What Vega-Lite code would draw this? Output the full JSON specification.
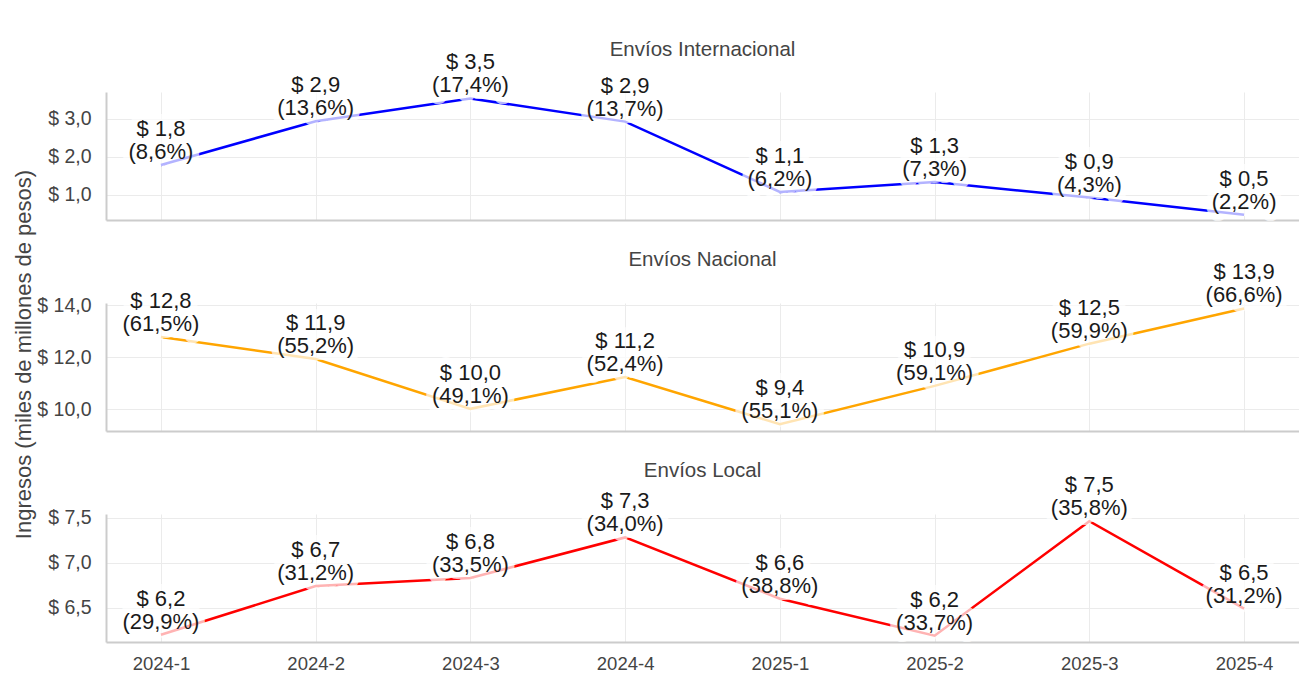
{
  "$schema": "https://vega.github.io/schema/vega-lite/v6.json",
  "background": "white",
  "padding": {"left": 11, "top": 39, "right": 0, "bottom": 0},
  "bounds": "flush",
  "spacing": 83,
  "config": {
    "font": "Liberation Sans",
    "view": {"stroke": null},
    "axis": {
      "labelFont": "Liberation Sans",
      "labelFontSize": 18.5,
      "labelColor": "#444444",
      "ticks": false,
      "gridColor": "#ebebeb",
      "gridWidth": 1,
      "domainColor": "#cccccc",
      "domainWidth": 2,
      "titleFont": "Liberation Sans",
      "titleFontWeight": "normal",
      "titleColor": "#444444",
      "titleFontSize": 22
    },
    "axisY": {"labelFontSize": 19.5, "labelPadding": 15},
    "title": {
      "font": "Liberation Sans",
      "fontSize": 20.5,
      "fontWeight": "normal",
      "color": "#444444",
      "anchor": "middle",
      "frame": "group",
      "baseline": "bottom"
    },
    "line": {"strokeWidth": 2.5},
    "text": {"font": "Liberation Sans"}
  },
  "datasets": {
    "d": [
      {"panel": "Internacional", "q": "2024-1", "v": 1.79, "label": "$ 1,8\n(8,6%)"},
      {"panel": "Internacional", "q": "2024-2", "v": 2.94, "label": "$ 2,9\n(13,6%)"},
      {"panel": "Internacional", "q": "2024-3", "v": 3.54, "label": "$ 3,5\n(17,4%)"},
      {"panel": "Internacional", "q": "2024-4", "v": 2.93, "label": "$ 2,9\n(13,7%)"},
      {"panel": "Internacional", "q": "2025-1", "v": 1.08, "label": "$ 1,1\n(6,2%)"},
      {"panel": "Internacional", "q": "2025-2", "v": 1.34, "label": "$ 1,3\n(7,3%)"},
      {"panel": "Internacional", "q": "2025-3", "v": 0.93, "label": "$ 0,9\n(4,3%)"},
      {"panel": "Internacional", "q": "2025-4", "v": 0.48, "label": "$ 0,5\n(2,2%)"},
      {"panel": "Nacional", "q": "2024-1", "v": 12.78, "label": "$ 12,8\n(61,5%)"},
      {"panel": "Nacional", "q": "2024-2", "v": 11.93, "label": "$ 11,9\n(55,2%)"},
      {"panel": "Nacional", "q": "2024-3", "v": 10.02, "label": "$ 10,0\n(49,1%)"},
      {"panel": "Nacional", "q": "2024-4", "v": 11.24, "label": "$ 11,2\n(52,4%)"},
      {"panel": "Nacional", "q": "2025-1", "v": 9.43, "label": "$ 9,4\n(55,1%)"},
      {"panel": "Nacional", "q": "2025-2", "v": 10.9, "label": "$ 10,9\n(59,1%)"},
      {"panel": "Nacional", "q": "2025-3", "v": 12.52, "label": "$ 12,5\n(59,9%)"},
      {"panel": "Nacional", "q": "2025-4", "v": 13.87, "label": "$ 13,9\n(66,6%)"},
      {"panel": "Local", "q": "2024-1", "v": 6.2, "label": "$ 6,2\n(29,9%)"},
      {"panel": "Local", "q": "2024-2", "v": 6.74, "label": "$ 6,7\n(31,2%)"},
      {"panel": "Local", "q": "2024-3", "v": 6.83, "label": "$ 6,8\n(33,5%)"},
      {"panel": "Local", "q": "2024-4", "v": 7.28, "label": "$ 7,3\n(34,0%)"},
      {"panel": "Local", "q": "2025-1", "v": 6.6, "label": "$ 6,6\n(38,8%)"},
      {"panel": "Local", "q": "2025-2", "v": 6.19, "label": "$ 6,2\n(33,7%)"},
      {"panel": "Local", "q": "2025-3", "v": 7.46, "label": "$ 7,5\n(35,8%)"},
      {"panel": "Local", "q": "2025-4", "v": 6.49, "label": "$ 6,5\n(31,2%)"}
    ]
  },
  "vconcat": [
    {
      "title": {"text": "Envíos Internacional", "offset": -9},
      "width": 1193,
      "height": 128,
      "data": {"name": "d"},
      "transform": [{"filter": "datum.panel === 'Internacional'"}],
      "encoding": {
        "x": {"field": "q", "type": "ordinal", "sort": null, "scale": {"type": "point", "padding": 0.355}, "axis": {"title": null, "labels": false, "grid": true}},
        "y": {"field": "v", "type": "quantitative", "scale": {"domain": [0.34, 3.71], "nice": false, "zero": false}, "axis": {"title": "Ingresos (miles de millones de pesos)", "titleX": -83, "titleY": 262, "titleBaseline": "middle", "values": [1, 2, 3], "labelExpr": "'$ ' + replace(format(datum.value, '.1f'), '.', ',')"}}
      },
      "layer": [
        {"mark": {"type": "line", "color": "#0000ff", "strokeWidth": 2.5}},
        {"mark": {"type": "text", "baseline": "bottom", "dy": -24, "lineBreak": "\n", "fontSize": 22, "lineHeight": 23, "fill": "white", "stroke": "white", "strokeWidth": 14, "strokeJoin": "round", "opacity": 0.7}, "encoding": {"text": {"field": "label"}}},
        {"mark": {"type": "text", "baseline": "bottom", "dy": -24, "lineBreak": "\n", "fontSize": 22, "lineHeight": 23, "color": "#1a1a1a"}, "encoding": {"text": {"field": "label"}}}
      ]
    },
    {
      "title": {"text": "Envíos Nacional", "offset": -9},
      "width": 1193,
      "height": 128,
      "data": {"name": "d"},
      "transform": [{"filter": "datum.panel === 'Nacional'"}],
      "encoding": {
        "x": {"field": "q", "type": "ordinal", "sort": null, "scale": {"type": "point", "padding": 0.355}, "axis": {"title": null, "labels": false, "grid": true}},
        "y": {"field": "v", "type": "quantitative", "scale": {"domain": [9.17, 14.08], "nice": false, "zero": false}, "axis": {"title": null, "values": [10, 12, 14], "labelExpr": "'$ ' + replace(format(datum.value, '.1f'), '.', ',')"}}
      },
      "layer": [
        {"mark": {"type": "line", "color": "#ffa500", "strokeWidth": 2.5}},
        {"mark": {"type": "text", "baseline": "bottom", "dy": -24, "lineBreak": "\n", "fontSize": 22, "lineHeight": 23, "fill": "white", "stroke": "white", "strokeWidth": 14, "strokeJoin": "round", "opacity": 0.7}, "encoding": {"text": {"field": "label"}}},
        {"mark": {"type": "text", "baseline": "bottom", "dy": -24, "lineBreak": "\n", "fontSize": 22, "lineHeight": 23, "color": "#1a1a1a"}, "encoding": {"text": {"field": "label"}}}
      ]
    },
    {
      "title": {"text": "Envíos Local", "offset": -7},
      "width": 1193,
      "height": 128,
      "data": {"name": "d"},
      "transform": [{"filter": "datum.panel === 'Local'"}],
      "encoding": {
        "x": {"field": "q", "type": "ordinal", "sort": null, "scale": {"type": "point", "padding": 0.355}, "axis": {"title": null, "labelAngle": 0, "labelPadding": 12, "grid": true}},
        "y": {"field": "v", "type": "quantitative", "scale": {"domain": [6.12, 7.54], "nice": false, "zero": false}, "axis": {"title": null, "values": [6.5, 7, 7.5], "labelExpr": "'$ ' + replace(format(datum.value, '.1f'), '.', ',')"}}
      },
      "layer": [
        {"mark": {"type": "line", "color": "#ff0000", "strokeWidth": 2.5}},
        {"mark": {"type": "text", "baseline": "bottom", "dy": -24, "lineBreak": "\n", "fontSize": 22, "lineHeight": 23, "fill": "white", "stroke": "white", "strokeWidth": 14, "strokeJoin": "round", "opacity": 0.7}, "encoding": {"text": {"field": "label"}}},
        {"mark": {"type": "text", "baseline": "bottom", "dy": -24, "lineBreak": "\n", "fontSize": 22, "lineHeight": 23, "color": "#1a1a1a"}, "encoding": {"text": {"field": "label"}}}
      ]
    }
  ]
}
